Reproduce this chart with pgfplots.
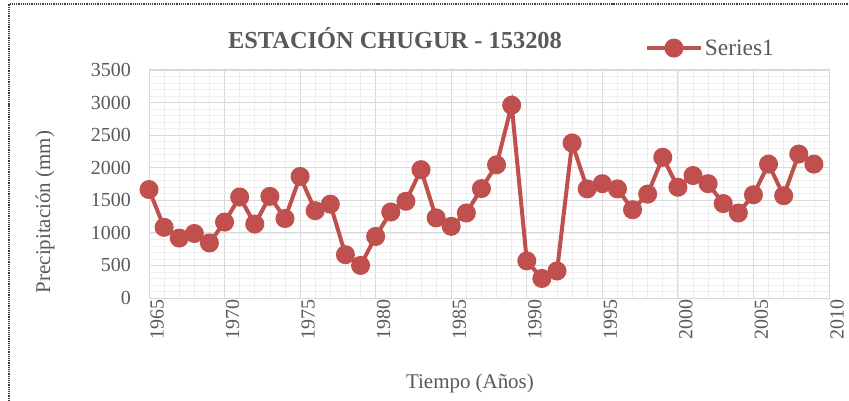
\documentclass[border=0pt]{standalone}
\usepackage{pgfplots}
\pgfplotsset{compat=1.18}
\usepackage{fontspec}
\setmainfont{Liberation Serif}
\definecolor{serred}{RGB}{192,80,77}
\definecolor{txtgray}{RGB}{89,89,89}
\definecolor{majgrid}{RGB}{217,217,217}
\definecolor{mingrid}{RGB}{238,238,238}
\begin{document}
\begin{tikzpicture}
\path[use as bounding box] (0bp,0bp) rectangle (849bp,401bp);
\draw[densely dotted, line width=1.2bp, black!75] (9bp,0bp) -- (9bp,397bp) -- (849bp,397bp);
\node[anchor=base, font=\fontsize{24.5}{28}\selectfont\bfseries, text=txtgray, inner sep=0] at (395bp,352bp) {ESTACIÓN CHUGUR - 153208};
\begin{axis}[
  at={(149bp,103bp)}, anchor=south west,
  width=680bp, height=228bp, scale only axis,
  xmin=1965, xmax=2010, ymin=0, ymax=3500,
  xtick={1965,1970,...,2010}, ytick={0,500,...,3500},
  minor xtick={1965,1966,...,2010}, minor ytick={0,100,...,3500},
  grid=both,
  major grid style={majgrid, line width=0.8bp},
  minor grid style={mingrid, line width=0.6bp},
  axis line style={majgrid, line width=1bp},
  tick style={draw=none},
  major tick length=0pt, minor tick length=0pt,
  /pgf/number format/1000 sep={},
  /pgf/number format/assume math mode=true,
  ticklabel style={font=\fontsize{20}{22}\selectfont, text=txtgray, inner sep=0pt},
  yticklabel style={anchor=east, xshift=-18bp},
  xticklabel style={rotate=90, anchor=east, yshift=-8bp, xshift=-1bp},
  xlabel={Tiempo (Años)}, ylabel={Precipitación (mm)},
  label style={font=\fontsize{21}{24}\selectfont, text=txtgray, inner sep=0pt},
  xlabel style={at={(axis description cs:0.472,-0.399)}, anchor=base},
  ylabel style={at={(axis description cs:-0.153,0.377)}, anchor=center},
  legend style={at={(axis description cs:0.729,1.096)}, anchor=west, draw=none, fill=none, inner sep=0pt, font=\fontsize{23.5}{26}\selectfont, text=txtgray, cells={anchor=west}},
  legend image code/.code={\draw[serred, line width=4bp] (0bp,0bp) -- (54bp,0bp); \fill[serred] (27bp,0bp) circle (7.5bp);},
  clip=false,
]
\addplot[serred, line width=4bp, mark=*, mark size=7.5bp, mark options={fill=serred, draw=serred}] coordinates {
(1965,1665) (1966,1085) (1967,920) (1968,990) (1969,845)
(1970,1165) (1971,1550) (1972,1135) (1973,1560) (1974,1220)
(1975,1865) (1976,1340) (1977,1440) (1978,665) (1979,500)
(1980,945) (1981,1320) (1982,1485) (1983,1970) (1984,1230)
(1985,1100) (1986,1305) (1987,1680) (1988,2045) (1989,2960)
(1990,570) (1991,300) (1992,415) (1993,2380) (1994,1675)
(1995,1755) (1996,1675) (1997,1355) (1998,1595) (1999,2160)
(2000,1700) (2001,1880) (2002,1755) (2003,1450) (2004,1305)
(2005,1585) (2006,2055) (2007,1570) (2008,2210) (2009,2055)
};
\addlegendentry{Series1}
\end{axis}
\end{tikzpicture}
\end{document}
